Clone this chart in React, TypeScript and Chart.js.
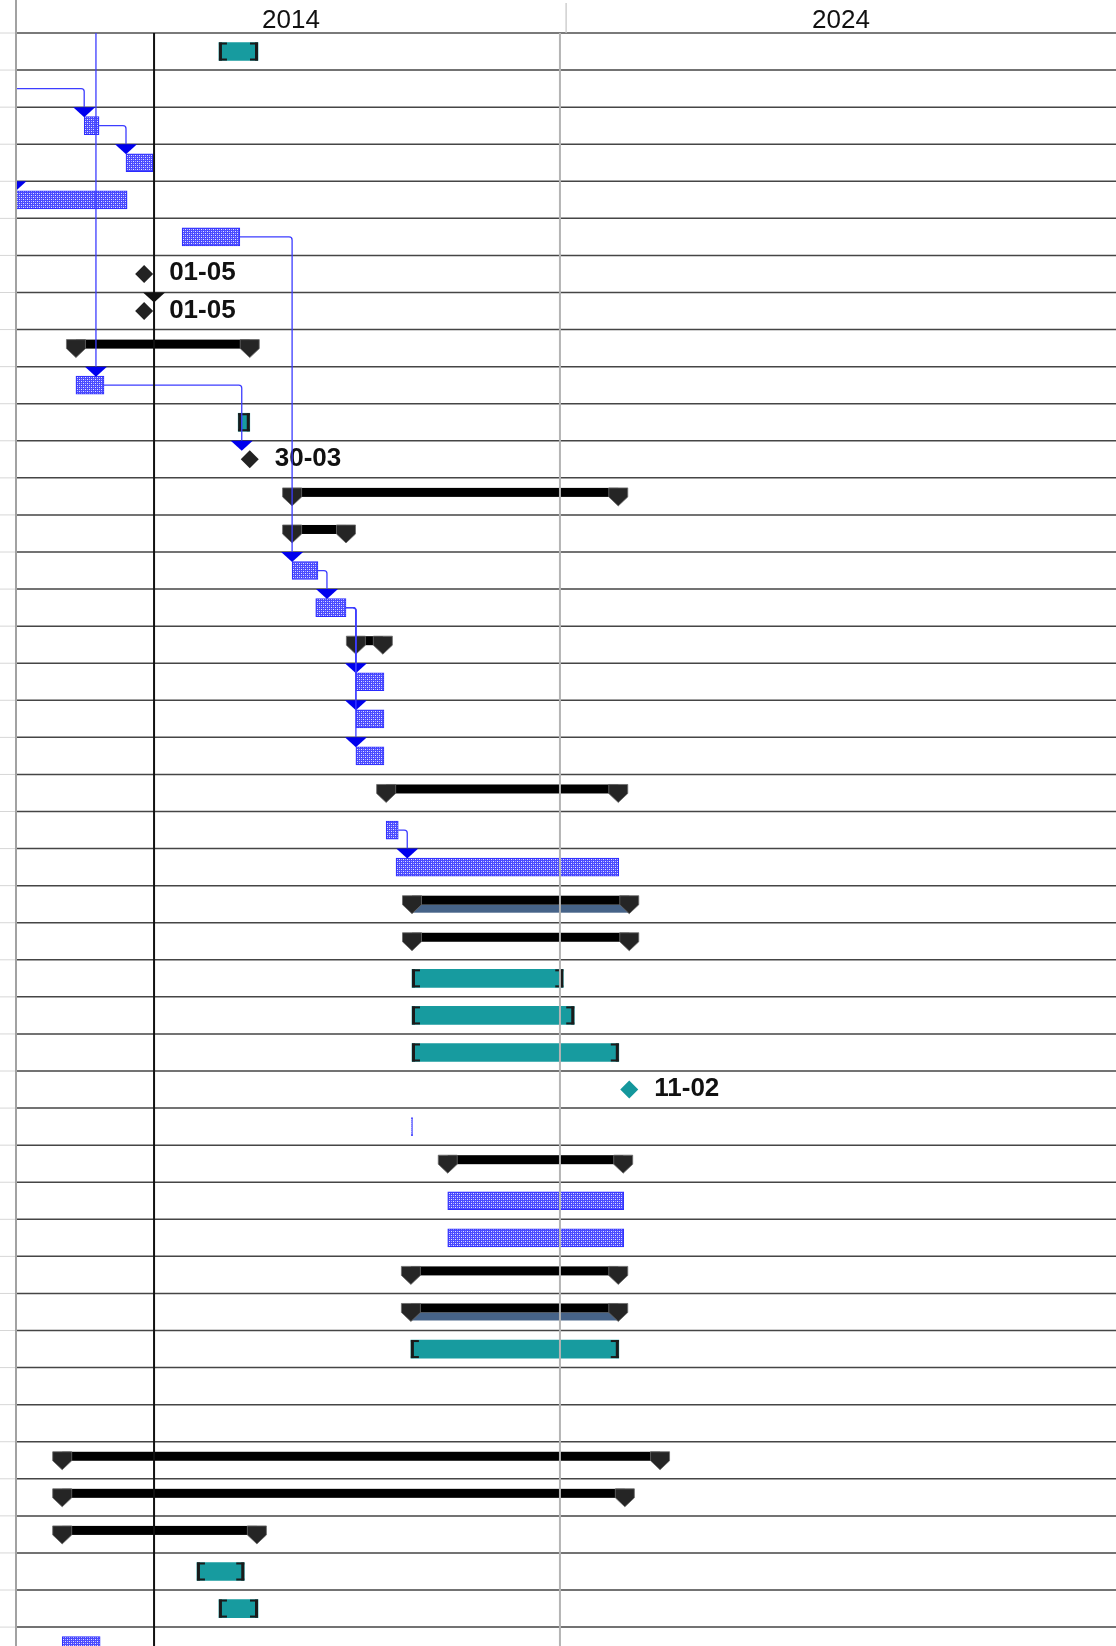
import React, { useEffect, useRef } from 'react';
import { Chart, registerables } from 'chart.js';

Chart.register(...registerables);

// ---- time axis ----
const YEAR_MIN = 2014;
const YEAR_MAX = 2034;
const ROW_SPAN = 43.51; // visible rows (last one cut off)
const decadeLabels = ['2014', '2024'];
const decadeStarts = [2014, 2024];
const statusDate = 2016.51;
const currentDate = 2023.89;
const statusArrowRow = 7;

// ---- hatched task bars (row -1 and row 1 are scrolled off-screen predecessors) ----
const taskRows = [-1, 1, 2, 3, 4, 5, 9, 14, 15, 17, 18, 19, 21, 22, 29, 31, 32, 43];
const taskStarts = [2014.8, 2012.9, 2015.24, 2016.0, 2013.99, 2017.02, 2015.09, 2019.02, 2019.45, 2020.18, 2020.18, 2020.18, 2020.73, 2020.91, 2021.19, 2021.85, 2021.85, 2014.84];
const taskEnds = [2015.29, 2013.6, 2015.51, 2016.49, 2016.02, 2018.07, 2015.6, 2019.49, 2020.0, 2020.69, 2020.69, 2020.69, 2020.95, 2024.96, 2021.21, 2025.05, 2025.05, 2015.53];

// ---- teal bars with brackets ----
const tealRows = [0, 10, 25, 26, 27, 35, 41, 42];
const tealStarts = [2017.69, 2018.04, 2021.2, 2021.2, 2021.2, 2021.18, 2017.29, 2017.69];
const tealEnds = [2018.4, 2018.25, 2023.95, 2024.15, 2024.96, 2024.96, 2018.15, 2018.4];

// ---- summary bars ----
const sumRows = [8, 12, 13, 16, 20, 23, 24, 30, 33, 34, 38, 39, 40];
const sumStarts = [2015.09, 2019.02, 2019.02, 2020.18, 2020.73, 2021.2, 2021.2, 2021.85, 2021.18, 2021.18, 2014.84, 2014.84, 2014.84];
const sumEnds = [2018.25, 2024.95, 2020.0, 2020.67, 2024.95, 2025.15, 2025.15, 2025.04, 2024.95, 2024.95, 2025.71, 2025.07, 2018.38];
const sumProgress = [false, false, false, false, false, true, false, false, false, true, false, false, false];

// ---- milestones ----
const msRows = [6, 7, 11, 28];
const msDates = [2016.33, 2016.33, 2018.25, 2025.15];
const msLabels = ['01-05', '01-05', '30-03', '11-02'];
const msColors = ['#222222', '#222222', '#222222', '#14979c'];

// ---- dependencies (finish-to-start) ----
const depFrom = [1, 1, 2, -1, 5, 9, 14, 15, 15, 15, 21];
const depTo = [2, 4, 3, 9, 14, 11, 15, 17, 18, 19, 22];

const FONT = '"Liberation Sans", Arial, sans-serif';
const LEAD_PX = 9;
const MS_ARROW_PX = 8;

function findTask(row: number) {
  const i = taskRows.indexOf(row);
  if (i >= 0) return { start: taskStarts[i], end: taskEnds[i], ms: false };
  const m = msRows.indexOf(row);
  if (m >= 0) return { start: msDates[m], end: msDates[m], ms: true };
  return null;
}

const ganttPlugin = {
  id: 'gantt',
  beforeDatasetsDraw(chart: any) {
    const { ctx, chartArea: a, scales } = chart;
    const y = scales.y;
    ctx.save();
    const n = Math.ceil(ROW_SPAN);
    for (let i = 0; i <= n; i++) {
      const py = y.getPixelForValue(i);
      ctx.lineWidth = 1;
      ctx.strokeStyle = '#d6d6d6';
      ctx.beginPath();
      ctx.moveTo(0, py);
      ctx.lineTo(a.left, py);
      ctx.stroke();
      ctx.lineWidth = i === 0 ? 2 : 1.5;
      ctx.strokeStyle = i === 0 ? '#7a7a7a' : '#454545';
      ctx.beginPath();
      ctx.moveTo(a.left, py);
      ctx.lineTo(a.right, py);
      ctx.stroke();
    }
    ctx.restore();
  },
  afterDatasetsDraw(chart: any) {
    const { ctx, chartArea: a, scales } = chart;
    const x = scales.x;
    const y = scales.y;
    const center = (r: number) => y.getPixelForValue(r + 0.5);
    const rowTop = (r: number) => y.getPixelForValue(r);

    ctx.save();
    ctx.beginPath();
    ctx.rect(a.left, a.top, a.right - a.left, a.bottom - a.top);
    ctx.clip();

    // teal brackets
    tealRows.forEach((r, i) => {
      const x0 = x.getPixelForValue(tealStarts[i]);
      const x1 = x.getPixelForValue(tealEnds[i]);
      const c = center(r);
      const top = c - 9;
      const h = 18;
      const tick = Math.min(8, (x1 - x0) / 2);
      ctx.fillStyle = '#1b1b1b';
      ctx.fillRect(x0, top, 3, h);
      ctx.fillRect(x0, top, tick, 2);
      ctx.fillRect(x0, top + h - 2, tick, 2);
      ctx.fillRect(x1 - 3, top, 3, h);
      ctx.fillRect(x1 - tick, top, tick, 2);
      ctx.fillRect(x1 - tick, top + h - 2, tick, 2);
    });

    // summaries
    const cap = (xc: number, top: number) => {
      ctx.beginPath();
      ctx.moveTo(xc - 9.5, top);
      ctx.lineTo(xc + 9.5, top);
      ctx.lineTo(xc + 9.5, top + 9);
      ctx.lineTo(xc, top + 18);
      ctx.lineTo(xc - 9.5, top + 9);
      ctx.closePath();
      ctx.fillStyle = '#252525';
      ctx.fill();
      ctx.lineWidth = 0.8;
      ctx.strokeStyle = '#6a6a6a';
      ctx.stroke();
    };
    sumRows.forEach((r, i) => {
      const xs = x.getPixelForValue(sumStarts[i]);
      const xe = x.getPixelForValue(sumEnds[i]);
      const c = center(r);
      const top = c - 8.5;
      if (sumProgress[i]) {
        ctx.fillStyle = '#466388';
        ctx.fillRect(xs, c + 0.5, xe - xs, 8);
      }
      ctx.fillStyle = '#000000';
      ctx.fillRect(xs, top, xe - xs, 9);
      cap(xs, top);
      cap(xe, top);
    });

    // milestones
    msRows.forEach((r, i) => {
      const xc = x.getPixelForValue(msDates[i]);
      const c = center(r);
      ctx.beginPath();
      ctx.moveTo(xc, c - 9);
      ctx.lineTo(xc + 9, c);
      ctx.lineTo(xc, c + 9);
      ctx.lineTo(xc - 9, c);
      ctx.closePath();
      ctx.fillStyle = msColors[i];
      ctx.fill();
      ctx.font = 'bold 26px ' + FONT;
      ctx.fillStyle = '#111111';
      ctx.textBaseline = 'alphabetic';
      ctx.textAlign = 'left';
      ctx.fillText(msLabels[i], xc + 25, c + 6.5);
    });

    // dependencies
    const arrowHead = (xt: number, yt: number, color: string) => {
      ctx.beginPath();
      ctx.moveTo(xt - 11, yt);
      ctx.lineTo(xt + 11, yt);
      ctx.lineTo(xt, yt + 10);
      ctx.closePath();
      ctx.fillStyle = color;
      ctx.fill();
    };
    depFrom.forEach((f, k) => {
      const p = findTask(f);
      const s = findTask(depTo[k]);
      if (!p || !s) return;
      const x0 = x.getPixelForValue(p.end);
      const y0 = center(f);
      let xt: number;
      if (s.ms) xt = x.getPixelForValue(s.start) - MS_ARROW_PX;
      else xt = Math.max(x.getPixelForValue(s.start), x0 + LEAD_PX);
      const yt = rowTop(depTo[k]);
      const rr = 3;
      ctx.beginPath();
      ctx.moveTo(x0, y0);
      ctx.lineTo(xt - rr, y0);
      ctx.arcTo(xt, y0, xt, y0 + rr, rr);
      ctx.lineTo(xt, yt);
      ctx.lineWidth = 1.3;
      ctx.strokeStyle = '#3d3dff';
      ctx.stroke();
      arrowHead(xt, yt, '#0000ee');
    });

    // status / current date lines
    const xs = x.getPixelForValue(statusDate);
    ctx.fillStyle = '#111111';
    ctx.fillRect(xs - 1, a.top, 2, a.bottom - a.top);
    const xc = x.getPixelForValue(currentDate);
    ctx.fillStyle = '#b4b4b4';
    ctx.fillRect(xc - 1, a.top, 2, a.bottom - a.top);
    arrowHead(xs, rowTop(statusArrowRow), '#111111');
    ctx.restore();

    // left border + header
    ctx.save();
    ctx.fillStyle = '#a2a2a2';
    ctx.fillRect(a.left - 1, 0, 2, a.bottom);
    ctx.fillStyle = '#c4c4c4';
    decadeStarts.forEach((d) => {
      const px = x.getPixelForValue(d);
      if (px > a.left + 2) ctx.fillRect(px - 0.5, 3, 1.2, a.top - 3);
    });
    ctx.font = '26px ' + FONT;
    ctx.fillStyle = '#111111';
    ctx.textAlign = 'center';
    ctx.textBaseline = 'alphabetic';
    decadeLabels.forEach((lab, i) => {
      const px = x.getPixelForValue(decadeStarts[i] + 5);
      ctx.fillText(lab, px, 28);
    });
    ctx.restore();
  },
};

function makePattern(): CanvasPattern | string {
  const c = document.createElement('canvas');
  c.width = 4;
  c.height = 4;
  const g = c.getContext('2d');
  if (!g) return '#6a6aff';
  g.fillStyle = '#4a4aff';
  g.fillRect(0, 0, 4, 4);
  g.fillStyle = '#e4e4ff';
  g.fillRect(1, 1, 1, 1);
  g.fillRect(3, 3, 1, 1);
  g.fillStyle = '#a8a8ff';
  g.fillRect(1, 3, 1, 1);
  g.fillRect(3, 1, 1, 1);
  const p = g.createPattern(c, 'repeat');
  return p || '#6a6aff';
}

export default function App() {
  const ref = useRef<HTMLCanvasElement | null>(null);
  useEffect(() => {
    document.body.style.margin = '0';
    document.body.style.background = '#ffffff';
    const canvas = ref.current;
    if (!canvas) return;
    const pattern = makePattern();
    const chart = new Chart(canvas, {
      type: 'bar',
      data: {
        datasets: [
          {
            label: 'Tasks',
            data: taskRows.map((r, i) => ({ x: [taskStarts[i], taskEnds[i]], y: r + 0.5 })) as any,
            backgroundColor: pattern as any,
            borderColor: '#2a2aff',
            borderWidth: 1,
            borderSkipped: false,
            barThickness: 18,
            grouped: false,
            clip: 0,
          } as any,
          {
            label: 'Teal',
            data: tealRows.map((r, i) => ({ x: [tealStarts[i], tealEnds[i]], y: r + 0.5 })) as any,
            backgroundColor: '#179b9f',
            borderWidth: 0,
            barThickness: 18,
            grouped: false,
            clip: 0,
          } as any,
        ],
      },
      options: {
        animation: false,
        responsive: false,
        indexAxis: 'y',
        layout: { padding: { left: 16, top: 33, right: 0, bottom: 0 } },
        plugins: { legend: { display: false }, tooltip: { enabled: false } },
        scales: {
          x: { type: 'linear', min: YEAR_MIN, max: YEAR_MAX, display: false, offset: false },
          y: { type: 'linear', min: 0, max: ROW_SPAN, reverse: true, display: false, offset: false, grid: { offset: false } },
        },
      } as any,
      plugins: [ganttPlugin as any],
    });
    return () => chart.destroy();
  }, []);
  return (
    <canvas ref={ref} width={1116} height={1646} style={{ display: 'block', width: 1116, height: 1646 }} />
  );
}
